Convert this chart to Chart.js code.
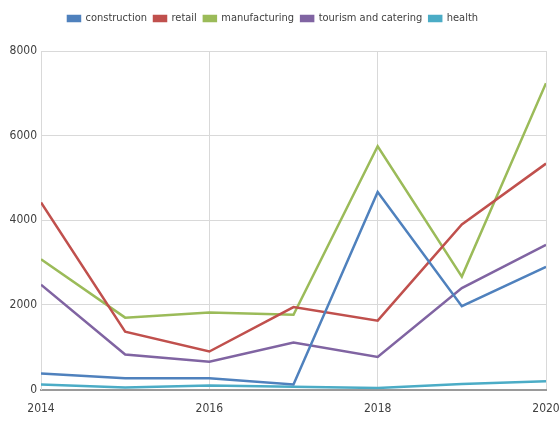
<!DOCTYPE html>
<html>
<head>
<meta charset="utf-8">
<script src="https://cdn.jsdelivr.net/npm/chart.js@4/dist/chart.umd.min.js"></script>
<style>
  html, body { margin: 0; padding: 0; background: #fff; }
  #chart { display: block; }
</style>
</head>
<body>
<canvas id="chart" width="560" height="433"></canvas>
<script>
// yearly values per sector
const years = [2014, 2015, 2016, 2017, 2018, 2019, 2020];
const construction = [380, 270, 270, 120, 4670, 1970, 2900];
const retail = [4420, 1370, 900, 1950, 1630, 3900, 5340];
const manufacturing = [3080, 1700, 1820, 1770, 5750, 2670, 7240];
const tourism = [2480, 830, 660, 1110, 770, 2400, 3420];
const health = [120, 50, 95, 70, 40, 135, 200];

const seriesNames = ['construction', 'retail', 'manufacturing', 'tourism and catering', 'health'];
const seriesData = [construction, retail, manufacturing, tourism, health];
const colors = ['#4f81bd', '#c0504d', '#9bbb59', '#8064a2', '#4bacc6'];

const font = "'DejaVu Sans Condensed', sans-serif";

function toPoints(values) {
    return values.map((v, i) => ({ x: years[i], y: v }));
}

// push the plot a bit further below the legend
const legendSpacer = {
    id: 'legendSpacer',
    beforeInit(chart) {
        const fit = chart.legend.fit;
        chart.legend.fit = function () {
            fit.call(this);
            this.height += 17;
        };
    }
};

const ctx = document.getElementById('chart').getContext('2d');
new Chart(ctx, {
    type: 'line',
    data: {
        datasets: seriesData.map((values, i) => ({
            label: seriesNames[i],
            data: toPoints(values),
            borderColor: colors[i],
            backgroundColor: colors[i],
            borderWidth: 2.5,
            pointRadius: 0,
            fill: false,
            tension: 0
        }))
    },
    options: {
        responsive: false,
        animation: false,
        layout: { padding: { left: 0, right: 14, top: 6, bottom: 5 } },
        plugins: {
            tooltip: { enabled: false },
            legend: {
                position: 'top',
                labels: {
                    boxWidth: 12,
                    boxHeight: 5,
                    padding: 7,
                    color: '#404040',
                    font: { family: font, size: 11 }
                }
            }
        },
        scales: {
            x: {
                type: 'linear',
                min: 2014,
                max: 2020,
                grid: { color: '#d9d9d9', lineWidth: 1, drawTicks: false },
                border: { color: '#9a9a9a', width: 2 },
                ticks: {
                    stepSize: 2,
                    padding: 12,
                    color: '#404040',
                    font: { family: font, size: 12 },
                    callback: v => String(v)
                },
                afterFit: s => { s.paddingLeft = 0; s.paddingRight = 0; }
            },
            y: {
                min: 0,
                max: 8000,
                grid: { color: '#d9d9d9', lineWidth: 1, drawTicks: false },
                border: { color: '#d9d9d9', width: 1 },
                ticks: {
                    stepSize: 2000,
                    padding: 4,
                    color: '#404040',
                    font: { family: font, size: 12 },
                    callback: v => String(v)
                },
                afterFit: s => { s.width = 41; }
            }
        }
    },
    plugins: [legendSpacer]
});
</script>
</body>
</html>
